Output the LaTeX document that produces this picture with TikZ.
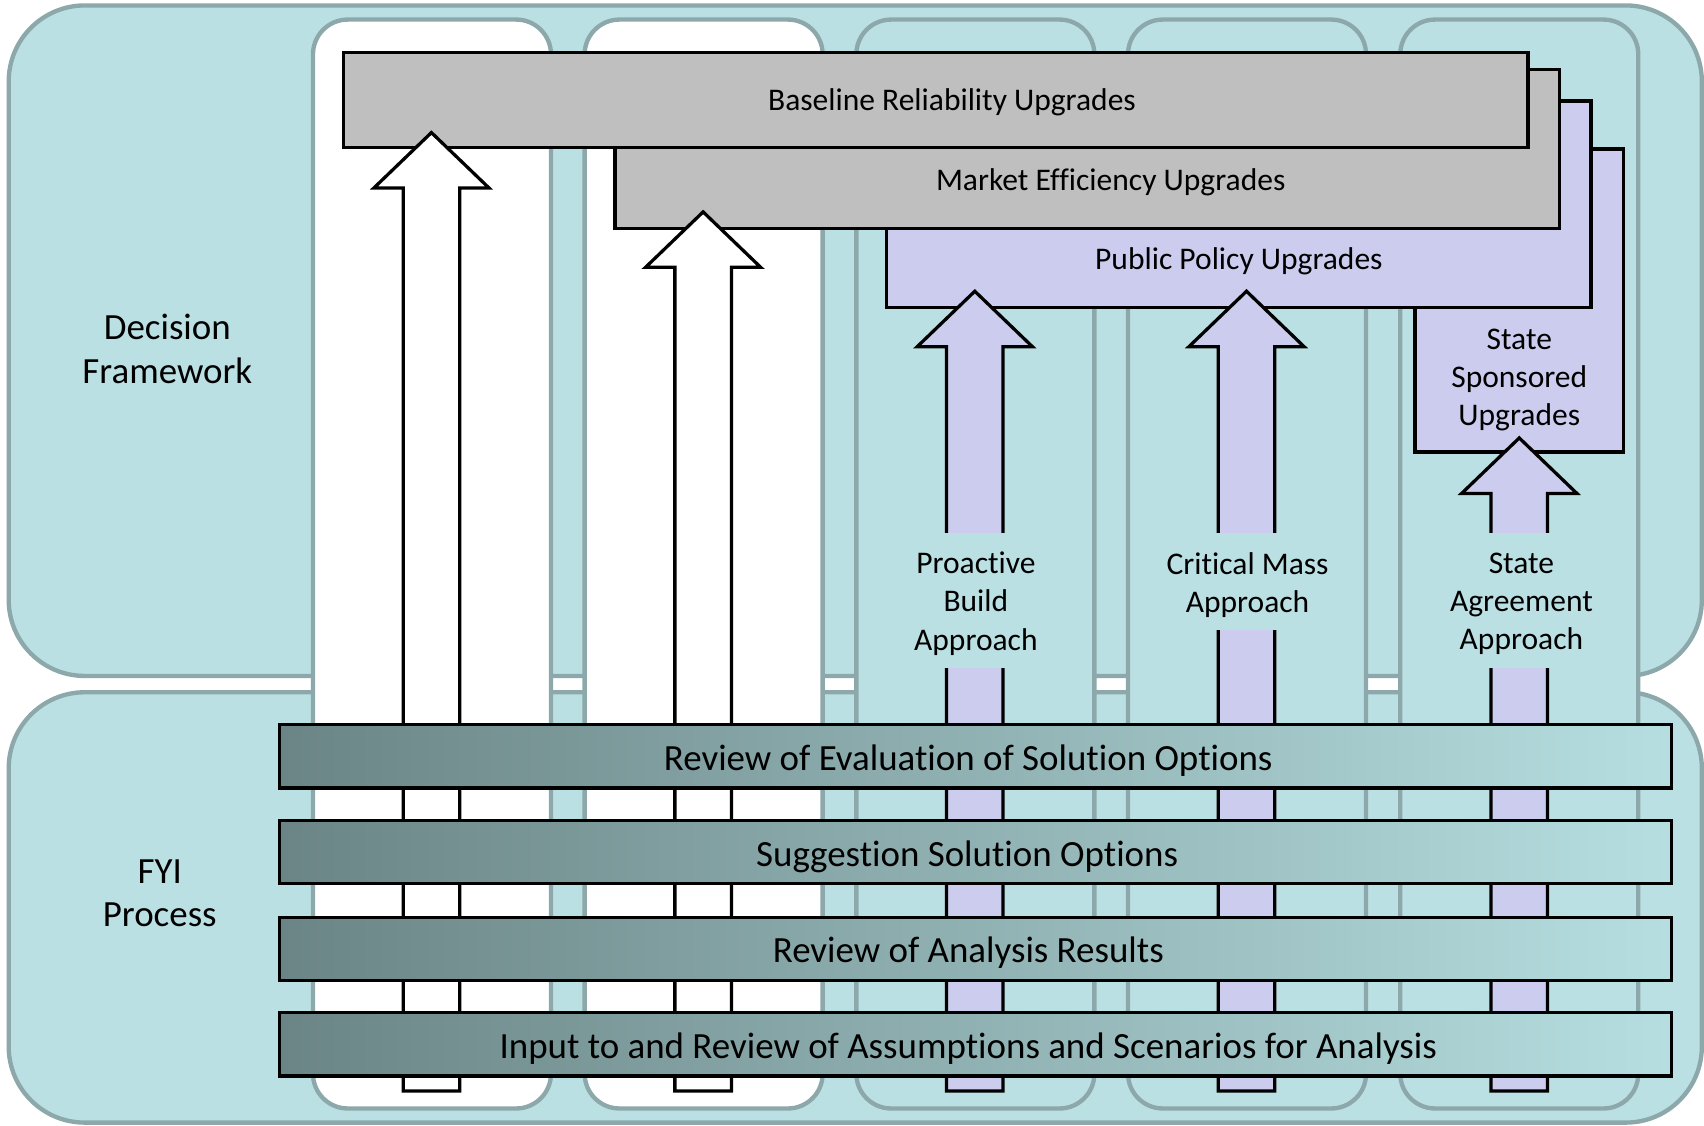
\documentclass[tikz,border=0pt]{standalone}
\usepackage{fontspec}
\setmainfont{Carlito}[Ligatures=CommonOff]
\definecolor{tealc}{HTML}{BBE0E3}
\definecolor{bordc}{HTML}{8CA8AA}
\definecolor{lav}{HTML}{CCCCEE}
\definecolor{grayc}{HTML}{BFBFBF}
\definecolor{bardark}{HTML}{6B8586}
\definecolor{barlight}{HTML}{B6DEE0}
\newcommand{\blkarrow}[4]{% cx, tip y, bottom y, fill
  \draw[line width=3pt, fill=#4, line join=miter]
    (#1,#2) -- (#1+53,#2+51) -- (#1+26,#2+51) -- (#1+26,#3) -- (#1-26,#3)
    -- (#1-26,#2+51) -- (#1-53,#2+51) -- cycle;}
\begin{document}
\begin{tikzpicture}[x=1pt,y=-1pt,
  container/.style={draw=bordc, line width=4pt, fill=tealc, rounded corners=70pt, inner sep=0pt},
  column/.style={draw=bordc, line width=4pt, rounded corners=32pt, inner sep=0pt, minimum width=219pt, minimum height=1002pt},
  upbox/.style={draw=black, line width=3pt, inner sep=0pt},
  bar/.style={draw=black, line width=3pt, left color=bardark, right color=barlight, inner sep=0pt,
    minimum width=1281pt, minimum height=58pt},
  bartext/.style={font=\fontsize{34}{40}\selectfont, inner sep=0pt},
  boxtext/.style={font=\fontsize{29}{35}\selectfont, align=center, inner sep=0pt},
  gapfill/.style={fill=tealc, inner sep=0pt, minimum width=80pt},
  sidelabel/.style={font=\fontsize{34}{40}\selectfont, align=center, inner sep=0pt}]
\useasboundingbox (0,0) rectangle (1568,1036);
% containers
\node[container, minimum width=1558pt, minimum height=617pt] (df) at (787,313.5) {};
\node[container, minimum width=1558pt, minimum height=396pt] (fyi) at (787,835) {};
% columns
\node[column, fill=white] (c1) at (397.5,519) {};
\node[column, fill=white] (c2) at (647.5,519) {};
\node[column, fill=tealc] (c3) at (897.5,519) {};
\node[column, fill=tealc] (c4) at (1147.5,519) {};
\node[column, fill=tealc] (c5) at (1398,519) {};
% upgrade boxes (back to front)
\node[upbox, fill=lav, minimum width=192pt, minimum height=279pt] (ssu) at (1398,276.5) {};
\node[upbox, fill=lav, minimum width=648pt, minimum height=190pt] (ppu) at (1140,188) {};
\node[upbox, fill=grayc, minimum width=869pt, minimum height=146pt] (meu) at (1000.5,137) {};
\node[upbox, fill=grayc, minimum width=1090pt, minimum height=88pt] (bru) at (861,92) {};
\node[boxtext] (brut) at (876,94) {Baseline Reliability Upgrades};
\node[boxtext] (meut) at (1022,167.5) {Market Efficiency Upgrades};
\node[boxtext] (pput) at (1140,240.5) {Public Policy Upgrades};
\node[boxtext] (ssut) at (1398,349.5) {State\\Sponsored\\Upgrades};
% block arrows
\blkarrow{397}{122}{1004}{white}
\blkarrow{647}{195}{1004}{white}
\blkarrow{897}{268}{1004}{lav}
\blkarrow{1147}{268}{1004}{lav}
\blkarrow{1398}{403}{1004}{lav}
% approach labels (gaps in the arrow shafts)
\node[gapfill, minimum height=125pt] (pba) at (897,552.5) {};
\node[gapfill, minimum height=90pt] (cma) at (1147,535) {};
\node[gapfill, minimum height=125pt] (saa) at (1398,552.5) {};
\node[boxtext] (pbat) at (898,555.5) {Proactive\\Build\\Approach};
\node[boxtext] (cmat) at (1148,538) {Critical Mass\\Approach};
\node[boxtext] (saat) at (1400,555.5) {State\\Agreement\\Approach};
% side labels
\node[sidelabel] (dfl) at (154,321) {Decision\\Framework};
\node[sidelabel] (fyil) at (147,822) {FYI\\Process};
% FYI bars
\node[bar] (b1) at (897.5,696) {};
\node[bar] (b2) at (897.5,784) {};
\node[bar] (b3) at (897.5,873) {};
\node[bar] (b4) at (897.5,961) {};
\node[bartext] (b1t) at (891,700) {Review of Evaluation of Solution Options};
\node[bartext] (b2t) at (890,788) {Suggestion Solution Options};
\node[bartext] (b3t) at (891,877) {Review of Analysis Results};
\node[bartext] (b4t) at (891,965) {Input to and Review of Assumptions and Scenarios for Analysis};
\end{tikzpicture}
\end{document}
